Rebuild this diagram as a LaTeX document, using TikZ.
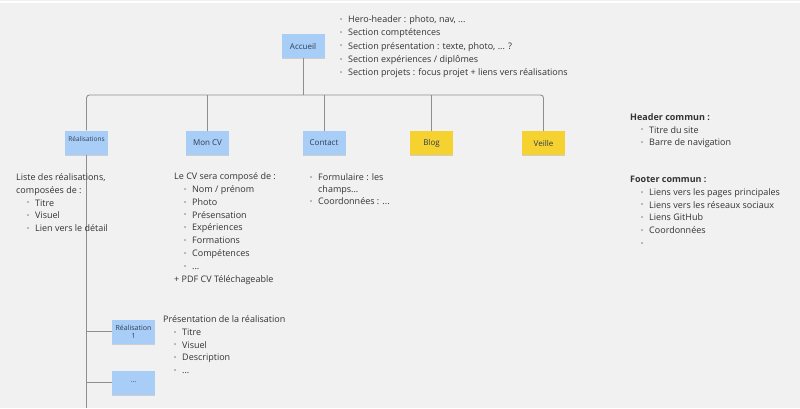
\documentclass[tikz,border=0pt]{standalone}
\usepackage{fontspec}
\setmainfont{Open Sans}
\usetikzlibrary{positioning}
\usetikzlibrary{shadows}

\definecolor{fond}{HTML}{F1F1F1}
\definecolor{bleunote}{HTML}{A8CDF6}
\definecolor{jaunenote}{HTML}{F6D230}
\definecolor{trait}{HTML}{8E8E8E}
\definecolor{texte}{HTML}{333333}
\definecolor{textenote}{HTML}{2F3D52}

\newcommand\puce{\makebox[8pt][l]{\raisebox{0.25ex}{\scalebox{0.6}{\textbullet}}}}

\tikzset{
  postit/.style={fill=bleunote, text=textenote,
    minimum width=43pt, minimum height=24pt, inner sep=1pt,
    font=\fontsize{8}{9}\selectfont,
    drop shadow={shadow xshift=0pt, shadow yshift=-1.3pt, opacity=.3}},
  postitjaune/.style={postit, fill=jaunenote},
  liste/.style={anchor=base west, align=left, inner sep=0pt,
    text=texte, font=\fontsize{9}{12.8}\selectfont},
  lien/.style={draw=trait, line width=0.9pt, rounded corners=3pt},
}

\begin{document}
\begin{tikzpicture}[x=1pt, y=-1pt,
      node distance=51pt,
      on grid]

    \useasboundingbox[fill=fond] (0,0) rectangle (800,408);
    \draw[white, line width=1.5pt] (0,2) -- (800,2);

    % pages
    \node[postit]
      (accueil) at (303,46) {Accueil};
    \node[postit, font=\fontsize{6.5}{7}\selectfont, text depth=7pt]
      (realisations) at (86.5,142.5) {Réalisations};
    \node[postit]
      (moncv) at (207.5,143) {Mon CV};
    \node[postit]
      (contact) at (324,143) {Contact};
    \node[postitjaune]
      (blog) at (431.5,143) {Blog};
    \node[postitjaune]
      (veille) at (543.5,143) {Veille};
    \node[postit, font=\fontsize{7}{8}\selectfont, align=center]
      (real1) at (133.5,331.5) {Réalisation\\1};
    \node[postit, font=\fontsize{7}{8}\selectfont]
      (realdots) [below=of real1] {...};

    \coordinate (bus) at (303,95);
    \coordinate (fin) at (86.5,408);

    % liens
    \draw[lien] (realisations.north) |- (bus) -| (veille.north);
    \draw[lien] (accueil.south) -- (bus);
    \draw[lien] (moncv.north) -- (moncv.north |- bus);
    \draw[lien] (contact.north) -- (contact.north |- bus);
    \draw[lien] (blog.north) -- (blog.north |- bus);
    \draw[lien] (realisations.south) -- (fin);
    \draw[lien] (real1.west) -- (real1.west -| fin);
    \draw[lien] (realdots.west) -- (realdots.west -| fin);

    % contenus (ancre sur la derniere ligne)
    \node[liste, font=\fontsize{9}{13.3}\selectfont]
      (detailaccueil) at (340,75.7)
      {\puce Hero-header : photo, nav, ...\\
       \puce Section comptétences\\
       \puce Section présentation : texte, photo, ... ?\\
       \puce Section expériences / diplômes\\
       \puce Section projets : focus projet + liens vers réalisations};
    \node[liste]
      (detailreal) at (16,231.7)
      {Liste des réalisations,\\
       composées de :\\
       \hspace{11pt}\puce Titre\\
       \hspace{11pt}\puce Visuel\\
       \hspace{11pt}\puce Lien vers le détail};
    \node[liste]
      (detailcv) at (174,282)
      {Le CV sera composé de :\\
       \hspace{10pt}\puce Nom / prénom\\
       \hspace{10pt}\puce Photo\\
       \hspace{10pt}\puce Présensation\\
       \hspace{10pt}\puce Expériences\\
       \hspace{10pt}\puce Formations\\
       \hspace{10pt}\puce Compétences\\
       \hspace{10pt}\puce ...\\
       + PDF CV Téléchageable};
    \node[liste, font=\fontsize{9}{12}\selectfont]
      (detailcontact) at (310,204.5)
      {\puce Formulaire : les\\
       \hspace{8pt}champs...\\
       \puce Coordonnées : ...};
    \node[liste, font=\fontsize{9}{12.5}\selectfont]
      (header) at (630,145.5)
      {\textbf{Header commun :}\\
       \hspace{11pt}\puce Titre du site\\
       \hspace{11pt}\puce Barre de navigation};
    \node[liste]
      (footer) at (630,246.5)
      {\textbf{Footer commun :}\\
       \hspace{11pt}\puce Liens vers les pages principales\\
       \hspace{11pt}\puce Liens vers les réseaux sociaux\\
       \hspace{11pt}\puce Liens GitHub\\
       \hspace{11pt}\puce Coordonnées\\
       \hspace{11pt}\puce};
    \node[liste]
      (detailreal1) at (163,373.7)
      {Présentation de la réalisation\\
       \hspace{11pt}\puce Titre\\
       \hspace{11pt}\puce Visuel\\
       \hspace{11pt}\puce Description\\
       \hspace{11pt}\puce ...};

  \end{tikzpicture}
\end{document}
